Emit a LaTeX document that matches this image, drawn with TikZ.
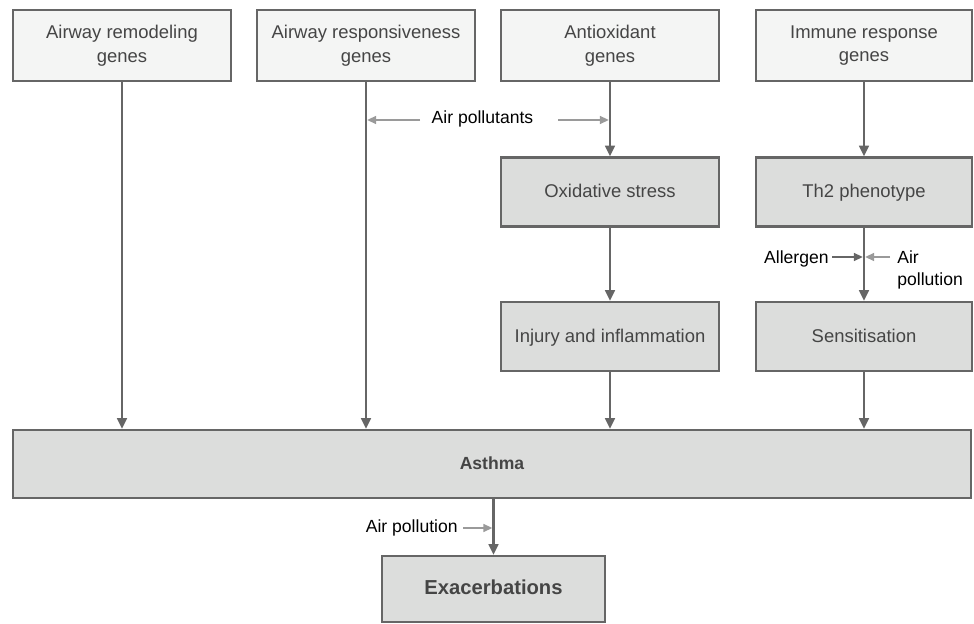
\documentclass[tikz,border=0pt]{standalone}
\usepackage{fontspec}
\setmainfont{Liberation Sans}
\usetikzlibrary{arrows.meta}

\definecolor{edgegray}{HTML}{666666}
\definecolor{lightfill}{HTML}{F4F5F4}
\definecolor{darkfill}{HTML}{DCDDDC}
\definecolor{txtgray}{HTML}{454545}
\definecolor{sidegray}{HTML}{9A9A9A}

\tikzset{
  genebox/.style={draw=edgegray, line width=1.4pt, fill=lightfill, text=txtgray,
    minimum width=4.36cm, minimum height=1.42cm, align=center, inner sep=2pt,
    font=\fontsize{10.5}{13.5}\selectfont},
  stagebox/.style={genebox, fill=darkfill, minimum height=1.38cm,
    text height=1.6ex, text depth=0.4ex},
  mainarrow/.style={draw=edgegray, line width=1.3pt, -{Triangle[length=6pt,width=5.5pt]}},
  sidearrow/.style={draw=sidegray, line width=0.9pt, shorten >=0.7pt,
    -{Triangle[length=5pt,width=4.5pt]}},
  lbl/.style={font=\fontsize{10}{12}\selectfont, inner sep=0pt, align=left},
}

\begin{document}
\begin{tikzpicture}[x=0.02cm, y=-0.02cm]
\useasboundingbox (0,0) rectangle (974,624);

% gene boxes
\node[genebox] (g1) at (122,45.5) {Airway remodeling\\genes};
\node[genebox] (g2) at (366,45.5) {Airway responsiveness\\genes};
\node[genebox] (g3) at (610,45.5) {Antioxidant\\genes};
\node[genebox, minimum width=4.32cm] (g4) at (864,45.5) {Immune response\\genes};

% intermediate steps
\node[stagebox] (ox) at (610,192) {Oxidative stress};
\node[stagebox, minimum width=4.32cm] (th) at (864,192) {Th2 phenotype};
\node[stagebox] (inj) at (610,336.5) {Injury and inflammation};
\node[stagebox, minimum width=4.32cm] (sens) at (864,336.5) {Sensitisation};

% outcome
\node[stagebox, minimum width=19.16cm, minimum height=1.36cm,
  font=\fontsize{10}{12}\selectfont\bfseries] (asthma) at (492,464) {Asthma};
\node[stagebox, minimum width=4.46cm, minimum height=1.32cm,
  font=\fontsize{11.5}{13}\selectfont\bfseries] (ex) at (493.5,589) {Exacerbations};

% main flow
\draw[mainarrow] (g1.south) -- (g1.south |- asthma.north);
\draw[mainarrow] (g2.south) -- (g2.south |- asthma.north);
\draw[mainarrow] (g3.south) -- (ox.north);
\draw[mainarrow] (ox.south) -- (inj.north);
\draw[mainarrow] (inj.south) -- (inj.south |- asthma.north);
\draw[mainarrow] (g4.south) -- (th.north);
\draw[mainarrow] (th.south) -- (sens.north);
\draw[mainarrow] (sens.south) -- (sens.south |- asthma.north);
\draw[mainarrow] (asthma.south -| ex.north) -- (ex.north);

% environmental inputs
\node[lbl, anchor=base] (pollutants) at (482.5,124) {Air pollutants};
\coordinate (pl) at (420,120);
\coordinate (pr) at (558,120);
\draw[sidearrow] (pl) -- (pl -| g2.south);
\draw[sidearrow] (pr) -- (pr -| g3.south);

\node[lbl, anchor=base east] (allergen) at (829,264) {Allergen};
\coordinate (al) at (832,257);
\draw[sidearrow, draw=edgegray] (al) -- (al -| th.south);

\node[lbl, anchor=west] (airpol) at (897,270) {Air\\pollution};
\coordinate (ar) at (890,257);
\draw[sidearrow] (ar) -- (ar -| th.south);

\node[lbl, anchor=base east] (exairpol) at (458,533) {Air pollution};
\coordinate (er) at (463,528);
\draw[sidearrow] (er) -- (er -| ex.north);
\end{tikzpicture}
\end{document}
